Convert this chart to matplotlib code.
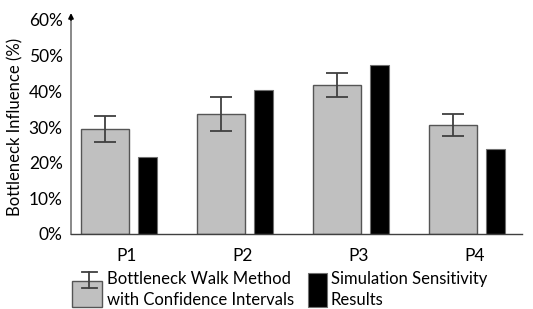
import numpy as np
import matplotlib
matplotlib.use("Agg")
import matplotlib.pyplot as plt
from matplotlib.patches import Rectangle
from matplotlib.lines import Line2D

plt.rcParams['font.family'] = ['Lato', 'DejaVu Sans']

# data
cats = ['P1', 'P2', 'P3', 'P4']
walk = [29.4, 33.7, 41.8, 30.5]          # bottleneck walk method (%)
walk_lo = [25.7, 29.0, 38.5, 27.4]       # lower confidence bound
walk_hi = [33.0, 38.5, 45.1, 33.7]       # upper confidence bound
sim = [21.5, 40.4, 47.3, 23.8]           # simulation sensitivity results (%)

W, H = 533, 309
fig = plt.figure(figsize=(W / 100, H / 100), dpi=100)

def fx(x):
    return x / W

def fy(y):
    return 1 - y / H

ax = fig.add_axes([fx(71), fy(234), fx(522) - fx(71), fy(20) - fy(234)])

x = np.arange(len(cats))
walk = np.array(walk)
yerr = [walk - np.array(walk_lo), np.array(walk_hi) - walk]

ax.bar(x - 0.19, walk, width=0.415, color='#c0c0c0', edgecolor='#555555', linewidth=1.0, zorder=2)
ax.errorbar(x - 0.19, walk, yerr=yerr, fmt='none', ecolor='#404040', elinewidth=1.3,
            capsize=8, capthick=1.3, zorder=3)
ax.bar(x + 0.177, sim, width=0.165, color='black', edgecolor='#707070', linewidth=0.8, zorder=2)

ax.set_xlim(-0.483, 3.405)
ax.set_ylim(0, 60)
ax.set_yticks(np.arange(0, 61, 10))
ax.set_yticklabels(['%d%%' % v for v in range(0, 61, 10)])
ax.set_xticks(x)
ax.set_xticklabels(cats)
ax.tick_params(axis='both', length=0, labelsize=12.5, colors='black')
ax.tick_params(axis='y', pad=6)
ax.tick_params(axis='x', pad=10)
ax.set_ylabel('Bottleneck Influence (%)', fontsize=12, labelpad=4)

for s in ['top', 'right']:
    ax.spines[s].set_visible(False)
ax.spines['left'].set_color('#808080')
ax.spines['left'].set_linewidth(1.3)
ax.spines['bottom'].set_color('#404040')
ax.spines['bottom'].set_linewidth(1.0)

# arrow on y axis
ax.annotate('', xy=(0, fy(13) ), xycoords=('axes fraction', 'figure fraction'),
            xytext=(0, 1), textcoords='axes fraction',
            arrowprops=dict(arrowstyle='-|>', color='black', lw=1.3, mutation_scale=7,
                            shrinkA=0, shrinkB=0))

# legend, drawn by hand
fig.patches.append(Rectangle((fx(72), fy(307)), fx(102) - fx(72), fy(281) - fy(307),
                             transform=fig.transFigure, facecolor='#c0c0c0',
                             edgecolor='#555555', linewidth=1.0))
fig.lines.append(Line2D([fx(89), fx(89)], [fy(272), fy(288)], transform=fig.transFigure,
                        color='#404040', lw=1.3))
for yy in [272, 288]:
    fig.lines.append(Line2D([fx(82), fx(97)], [fy(yy), fy(yy)], transform=fig.transFigure,
                            color='#404040', lw=1.3))
fig.text(fx(107), fy(289.5), 'Bottleneck Walk Method\nwith Confidence Intervals',
         fontsize=12, va='center', ha='left', linespacing=1.45)

fig.patches.append(Rectangle((fx(308), fy(307)), fx(327) - fx(308), fy(273) - fy(307),
                             transform=fig.transFigure, facecolor='black',
                             edgecolor='#707070', linewidth=0.8))
fig.text(fx(331), fy(289.5), 'Simulation Sensitivity\nResults',
         fontsize=12, va='center', ha='left', linespacing=1.45)

fig.savefig('out.png', dpi=100)
